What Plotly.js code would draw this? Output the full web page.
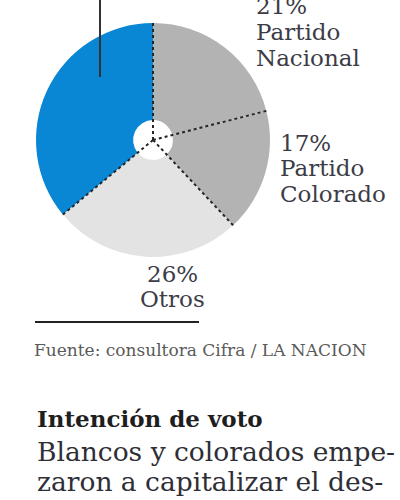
<!DOCTYPE html>
<html>
<head>
<meta charset="utf-8">
<script src="https://cdn.plot.ly/plotly-3.0.1.min.js"></script>
<style>html,body{margin:0;padding:0;background:#fff;}#chart{width:400px;height:500px;}</style>
</head>
<body>
<div id="chart"></div>
<script>
// ---- data ----
const labels = ["Partido Nacional", "Partido Colorado", "Otros", "Frente Amplio"];
const values = [21, 17, 26, 36];
const labelLines = [["Partido", "Nacional"], ["Partido", "Colorado"], ["Otros"], []];
const sourceText = "Fuente: consultora Cifra / LA NACION";
const headline = "Intención de voto";
const bodyLines = ["Blancos y colorados empe-", "zaron a capitalizar el des-"];

// ---- layout helpers ----
const W = 400, H = 500;
const cx = 153, cy = 140, R = 117;
const px = x => x / W;
const py = y => 1 - y / H;
const colors = ["#b3b3b3", "#b3b3b3", "#e3e3e3", "#0a87d4"];
const labelFont = "DejaVu Serif";

const trace = {
  type: "pie",
  labels: labels,
  values: values,
  sort: false,
  direction: "clockwise",
  rotation: 0,
  hole: 0.17,
  textinfo: "none",
  hoverinfo: "none",
  marker: {colors: colors, line: {width: 0}},
  domain: {x: [px(cx - R), px(cx + R)], y: [py(cy + R), py(cy - R)]},
  showlegend: false
};

// dotted slice boundaries, derived from cumulative values
const total = values.reduce((a, b) => a + b, 0);
const shapes = [];
let cum = 0;
for (let i = 0; i < values.length; i++) {
  const ang = cum / total * 2 * Math.PI;
  shapes.push({
    type: "line", xref: "paper", yref: "paper",
    x0: px(cx), y0: py(cy),
    x1: px(cx + R * Math.sin(ang)), y1: py(cy - R * Math.cos(ang)),
    line: {color: "#262626", width: 2, dash: "dot"}
  });
  cum += values[i];
}
// leader line for the (off-frame) blue label
shapes.push({type: "line", xref: "paper", yref: "paper", x0: px(100), y0: py(0), x1: px(100), y1: py(77),
  line: {color: "#333", width: 2}});
// rule under chart
shapes.push({type: "line", xref: "paper", yref: "paper", x0: px(35), y0: py(322), x1: px(199), y1: py(322),
  line: {color: "#222", width: 2}});

const annotations = [];
function ann(text, x, y, size, opts) {
  annotations.push(Object.assign({
    text: text, xref: "paper", yref: "paper", x: px(x), y: py(y),
    xanchor: "left", yanchor: "middle", showarrow: false,
    font: {family: labelFont, size: size, color: "#3c3c46"}, borderpad: 0
  }, opts || {}));
}
// slice labels
const labelPos = [
  {x: 255, ys: [6, 32, 58], anchor: "left"},
  {x: 279, ys: [143, 168, 194], anchor: "left"},
  {x: 172, ys: [274, 299], anchor: "center"}
];
labelPos.forEach((p, i) => {
  const lines = [values[i] + "%"].concat(labelLines[i]);
  lines.forEach((t, j) => ann(t, p.x, p.ys[j], 23, {xanchor: p.anchor}));
});
ann(sourceText, 33, 350, 17, {font: {family: labelFont, size: 17, color: "#5a5a5a"}});
ann("<b>" + headline + "</b>", 36, 418, 23, {font: {family: labelFont, size: 23, color: "#1e1e1e"}});
ann(bodyLines[0], 36, 451, 26.5, {font: {family: labelFont, size: 26.5, color: "#2e2e36"}});
ann(bodyLines[1], 36, 481, 26.5, {font: {family: labelFont, size: 26.5, color: "#2e2e36"}});

const layout = {
  width: W, height: H,
  margin: {l: 0, r: 0, t: 0, b: 0},
  paper_bgcolor: "#fff",
  showlegend: false,
  shapes: shapes,
  annotations: annotations
};
Plotly.newPlot("chart", [trace], layout, {displayModeBar: false, staticPlot: true});
</script>
</body>
</html>
